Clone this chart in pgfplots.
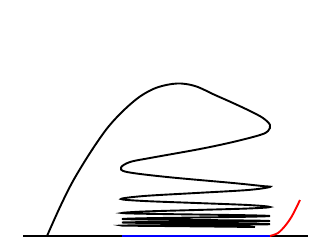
\documentclass[border=0pt]{standalone}
\usepackage{pgfplots}
\pgfplotsset{compat=1.18}
\begin{document}
\begin{tikzpicture}
\begin{axis}[
  width=332pt, height=249pt, scale only axis,
  xmin=0, xmax=332, ymin=0, ymax=249, y dir=reverse,
  hide axis, clip=false,
]
% baseline
\addplot[black, line width=1.4pt] coordinates {(23,236) (308,236)};
% blue segment
\addplot[blue, line width=1.9pt] coordinates {(122,236) (270,236)};
% red curve
\addplot[red, line width=1.9pt, smooth] coordinates {(270,236) (278,233) (285,226) (292,216) (300,200)};
% black spiral curve
\addplot[black, line width=1.9pt, smooth, tension=0.55] coordinates {
(47,236) (60,207) (73,181) (90,153) (107,128.5) (123,111) (140,96.5) (157,87.5) (177,83.5)
(195,86) (215,95) (233,103) (250,111) (263,118) (270,125) (268,131) (260,135)
(233,142) (200,149) (150,158) (130,162) (121,167.5)
(127,172) (167,177) (233,183) (262,186) (270,187)
(248,190) (196,193) (144,196) (121,199)
(144,201) (196,203) (248,205) (270,207)
(248,208.5) (196,210) (144,211.5) (122,213)
(144,213.75) (196,214.5) (248,215.25) (270,216)
(248,216.75) (196,217.5) (144,218.25) (122,219)
(144,219.5) (196,220) (248,220.5) (270,221)
(248,221.4) (196,221.8) (144,222.1) (122,222.5)
(144,222.9) (196,223.3) (248,223.8) (270,224.2)
(248,224.6) (196,225) (144,225.3) (122,225.6)
(160,226) (210,226.5) (255,227)
};
\end{axis}
\path (current axis.south west) rectangle (current axis.north east);
\end{tikzpicture}
\end{document}
